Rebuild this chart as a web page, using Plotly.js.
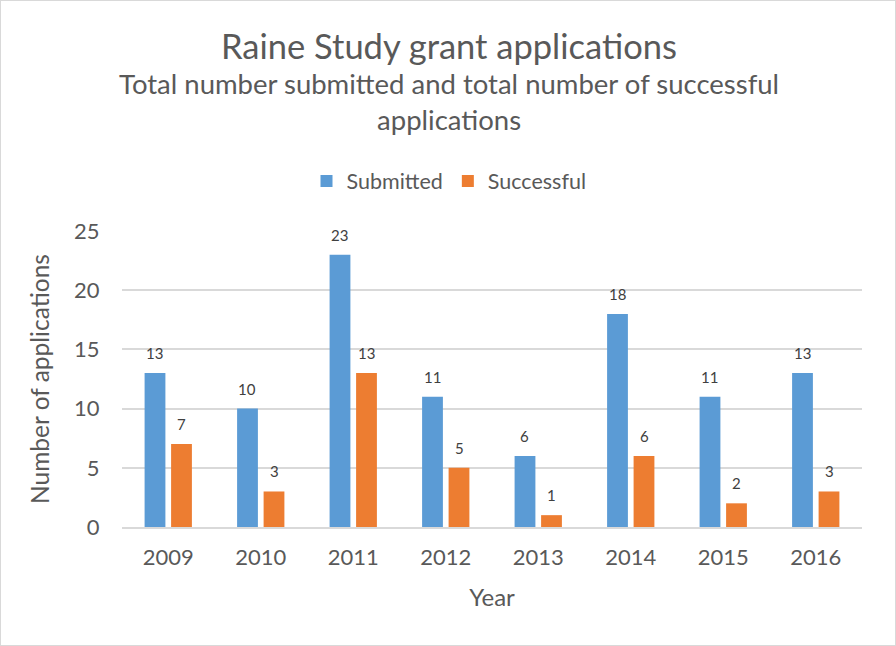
<!DOCTYPE html>
<html>
<head>
<meta charset="utf-8">
<script src="https://cdn.plot.ly/plotly-3.0.1.min.js"></script>
<style>
html,body{margin:0;padding:0;background:#fff;}
#chart{width:894px;height:644px;border:1px solid #d9d9d9;}
</style>
</head>
<body>
<div id="chart"></div>
<script>
const years = ["2009","2010","2011","2012","2013","2014","2015","2016"];
const submitted = [13,10,23,11,6,18,11,13];
const successful = [7,3,13,5,1,6,2,3];
const yTicks = [0,5,10,15,20,25];

const FONT = "Lato, 'Open Sans', sans-serif";
const BLUE = "#5B9BD5", ORANGE = "#ED7D31";

const traces = [
  {type:"bar", name:"Submitted", x:years, y:submitted, marker:{color:BLUE}, hoverinfo:"skip"},
  {type:"bar", name:"Successful", x:years, y:successful, marker:{color:ORANGE}, hoverinfo:"skip"}
];

const annotations = [];
function addLabels(vals, shift){
  vals.forEach((v,i)=>annotations.push({
    x:i, y:v, xref:"x", yref:"y", text:String(v), showarrow:false,
    xshift:shift, yshift:20, yanchor:"middle", xanchor:"center",
    font:{family:FONT, size:15, color:"#404040"}
  }));
}
addLabels(submitted, -13.3);
addLabels(successful, 13.3);

const pc = (448-121)/740;
annotations.push(
  {xref:"paper", yref:"paper", x:pc, y:1, yshift:186, text:"Raine Study grant applications", showarrow:false,
   xanchor:"center", yanchor:"middle", font:{family:FONT, size:34.5, color:"#595959"}},
  {xref:"paper", yref:"paper", x:pc, y:1, yshift:130, text:"Total number submitted and total number of successful<br>applications", showarrow:false,
   xanchor:"center", yanchor:"middle", align:"center", font:{family:FONT, size:27.5, color:"#595959"}}
);

const layout = {
  width:894, height:644,
  margin:{l:121, r:33, t:230, b:118},
  paper_bgcolor:"#fff", plot_bgcolor:"#fff",
  font:{family:FONT, color:"#595959"},
  showlegend:true,
  legend:{orientation:"h", x:pc, xanchor:"center", y:1 + 50/296, yanchor:"middle",
          font:{family:FONT, size:21.5, color:"#595959"}, traceorder:"normal"},
  barmode:"group", bargap:0.427, bargroupgap:0.215,
  xaxis:{type:"category", categoryorder:"array", categoryarray:years, range:[-0.5, 7.5],
         showgrid:false, showline:true, linecolor:"#d9d9d9", linewidth:1.5,
         tickfont:{family:FONT, size:22, color:"#595959"}, ticks:"outside", ticklen:10, tickcolor:"rgba(0,0,0,0)",
         title:{text:"Year", font:{family:FONT, size:24, color:"#595959"}, standoff:20}},
  yaxis:{range:[0,25], tickvals:yTicks, showgrid:true, gridcolor:"#d9d9d9", gridwidth:1.5,
         zeroline:false, showline:false, ticks:"outside", ticklen:17, tickcolor:"rgba(0,0,0,0)",
         tickfont:{family:FONT, size:22, color:"#595959"},
         title:{text:"Number of applications", font:{family:FONT, size:24.5, color:"#595959"}, standoff:17}},
  annotations:annotations
};

Plotly.newPlot("chart", traces, layout, {displayModeBar:false});
</script>
</body>
</html>
